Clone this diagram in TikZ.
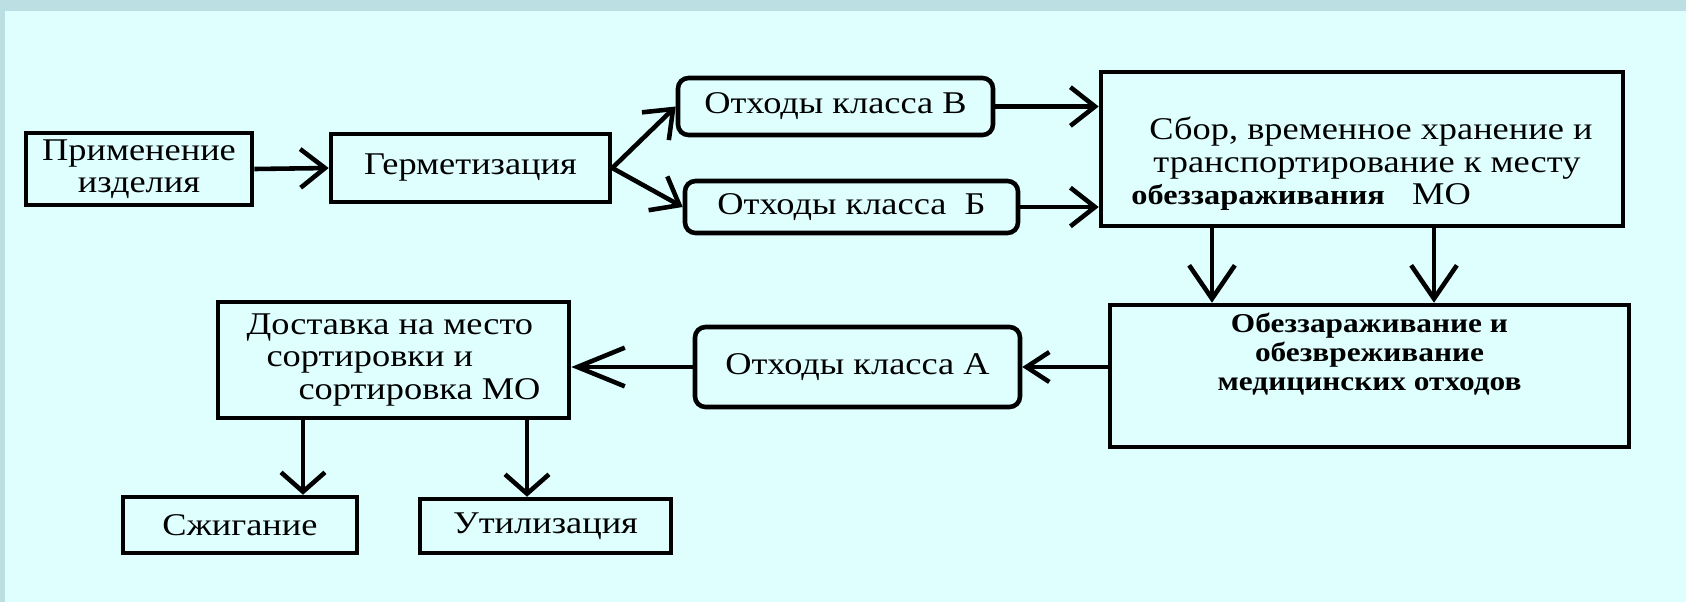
\documentclass[tikz,border=0pt]{standalone}
\usepackage{fontspec}
\setmainfont{Liberation Serif}[FakeStretch=1.15]
\usepackage{xcolor}
\usetikzlibrary{arrows.meta}
\definecolor{panelcyan}{HTML}{DFFFFF}
\definecolor{framegrey}{HTML}{BCDFE3}

\begin{document}
\begin{tikzpicture}[
    x=0.2mm, y=-0.2mm,
    block/.style={
        draw=black,
        line width=2.6pt,
        fill=panelcyan,
        inner sep=2pt,
        font=\fontsize{18}{18.5}\selectfont,
        align=center,
    },
    wastebox/.style={
        block,
        rounded corners=6pt,
    },
    flow/.style={
        line width=2.6pt,
        -{Straight Barb[length=14pt,width=22pt]},
    },
]

% page and frame
\useasboundingbox (0,0) rectangle (1686,602);
\fill[framegrey] (0,0) rectangle (1686,602);
\fill[panelcyan] (5,11) rectangle (1686,602);

% top row
\node[block, minimum width=4.52cm, minimum height=1.44cm] (use) at (139,169) {Применение\\изделия};
\node[block, minimum width=5.58cm, minimum height=1.36cm] (seal) at (470.5,168) {Герметизация};
\node[wastebox, minimum width=6.3cm, minimum height=1.14cm] (wasteV) at (835.5,106.5) {Отходы класса В};
\node[wastebox, minimum width=6.66cm, minimum height=1.04cm] (wasteB) at (851.5,207) {Отходы класса\ \ Б};
\node[block, align=left, minimum width=10.44cm, minimum height=3.08cm] (collect) at (1362,149)
    {\rule{0pt}{30pt}\hspace*{0.36cm}Сбор, временное хранение и\\
     \hspace*{0.44cm}транспортирование к месту\\
     {\fontsize{16}{18}\selectfont\bfseries обеззараживания}\ \ \ МО};

% bottom row
\node[block, font=\fontsize{15.5}{16.5}\selectfont\bfseries, minimum width=10.38cm, minimum height=2.84cm] (disinf) at (1369.5,376)
    {Обеззараживание и\\обезвреживание\\медицинских отходов\rule[-28pt]{0pt}{0pt}};
\node[wastebox, minimum width=6.5cm, minimum height=1.6cm] (wasteA) at (857.5,367) {Отходы класса А};
\node[block, align=left, minimum width=7.02cm, minimum height=2.32cm] (deliver) at (393.5,360)
    {Доставка на место\\
     \hspace*{0.4cm}сортировки и\\
     \hspace*{1.04cm}сортировка МО};
\node[block, minimum width=4.68cm, minimum height=1.12cm] (burn) at (240,525) {Сжигание};
\node[block, minimum width=5.02cm, minimum height=1.08cm] (recycle) at (545.5,526) {Утилизация};

\coordinate (dropL) at (1212,0);
\coordinate (dropR) at (1434,0);
\coordinate (dropBurn) at (303,0);
\coordinate (dropRec) at (527,0);

% connectors
\draw[flow] (use.east) -- (seal.west);
\draw[flow] (seal.east) -- (wasteV.west);
\draw[flow] (seal.east) -- (wasteB.west);
\draw[flow] (wasteV.east) -- (wasteV.east -| collect.west);
\draw[flow] (wasteB.east) -- (wasteB.east -| collect.west);
\draw[flow, -{Straight Barb[length=19pt,width=26pt]}] (dropL |- collect.south) -- (dropL |- disinf.north);
\draw[flow, -{Straight Barb[length=19pt,width=26pt]}] (dropR |- collect.south) -- (dropR |- disinf.north);
\draw[flow, -{Straight Barb[length=13pt,width=17pt]}] (disinf.west |- wasteA.east) -- (wasteA.east);
\draw[flow, -{Straight Barb[length=27pt,width=22pt]}] (wasteA.west) -- (wasteA.west -| deliver.east);
\draw[flow, -{Straight Barb[length=11pt,width=25pt]}] (dropBurn |- deliver.south) -- (dropBurn |- burn.north);
\draw[flow, -{Straight Barb[length=11pt,width=25pt]}] (dropRec |- deliver.south) -- (dropRec |- recycle.north);

\end{tikzpicture}
\end{document}
